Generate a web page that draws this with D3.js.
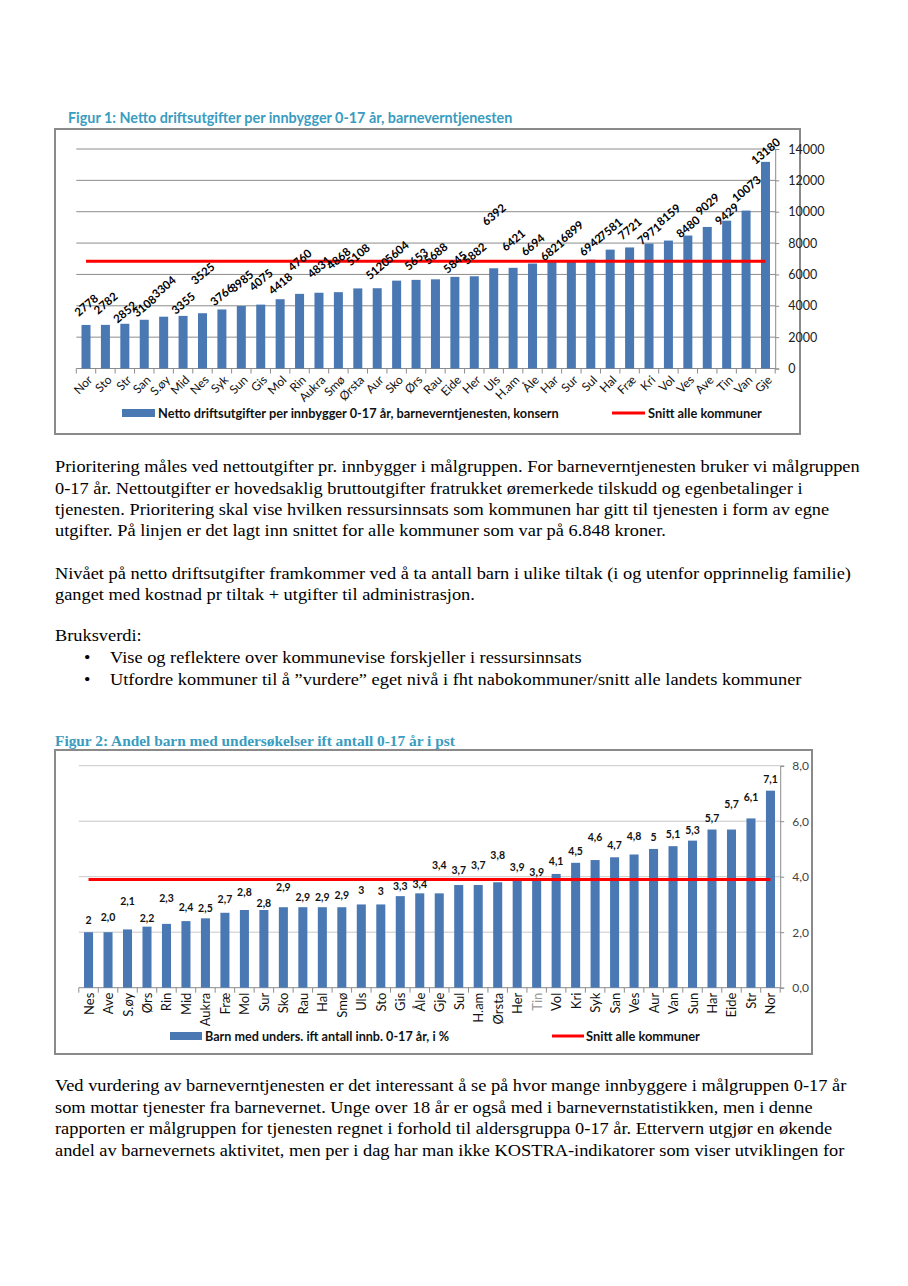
<!DOCTYPE html>
<html><head><meta charset="utf-8">
<script src="https://cdn.jsdelivr.net/npm/d3@7"></script>
<style>body{margin:0;background:#fff}svg{display:block}</style>
</head><body>
<svg id="page" width="908" height="1286"></svg>
<script>
// ---------- DATA ----------
const title1 = "Figur 1: Netto driftsutgifter per innbygger 0-17 år, barneverntjenesten";
const cat1 = ["Nor","Sto","Str","San","S.øy","Mid","Nes","Syk","Sun","Gis","Mol","Rin","Aukra","Smø","Ørsta","Aur","Sko","Ørs","Rau","Eide","Her","Uls","H.am","Åle","Har","Sur","Sul","Hal","Fræ","Kri","Vol","Ves","Ave","Tin","Van","Gje"];
const val1 = [2778,2782,2852,3108,3304,3355,3525,3766,3985,4075,4418,4760,4831,4868,5108,5120,5604,5653,5688,5845,5882,6392,6421,6694,6821,6899,6942,7581,7721,7971,8159,8480,9029,9429,10073,13180];
const avg1 = 6848;
const ticks1 = [0,2000,4000,6000,8000,10000,12000,14000];
const legend1 = ["Netto driftsutgifter per innbygger 0-17 år, barneverntjenesten, konsern","Snitt alle kommuner"];

const title2 = "Figur 2: Andel barn med undersøkelser ift antall 0-17 år i pst";
const cat2 = ["Nes","Ave","S.øy","Ørs","Rin","Mid","Aukra","Fræ","Mol","Sur","Sko","Rau","Hal","Smø","Uls","Sto","Gis","Åle","Gje","Sul","H.am","Ørsta","Her","Tin","Vol","Kri","Syk","San","Ves","Aur","Van","Sun","Har","Eide","Str","Nor"];
const val2 = [2.0,2.0,2.1,2.2,2.3,2.4,2.5,2.7,2.8,2.8,2.9,2.9,2.9,2.9,3.0,3.0,3.3,3.4,3.4,3.7,3.7,3.8,3.9,3.9,4.1,4.5,4.6,4.7,4.8,5.0,5.1,5.3,5.7,5.7,6.1,7.1];
const lab2 = ["2","2,0","2,1","2,2","2,3","2,4","2,5","2,7","2,8","2,8","2,9","2,9","2,9","2,9","3","3","3,3","3,4","3,4","3,7","3,7","3,8","3,9","3,9","4,1","4,5","4,6","4,7","4,8","5","5,1","5,3","5,7","5,7","6,1","7,1"];
const avg2 = 3.9;
const ticks2 = [0,2,4,6,8];
const tickLab2 = ["0,0","2,0","4,0","6,0","8,0"];
const legend2 = ["Barn med unders. ift antall innb. 0-17 år, i %","Snitt alle kommuner"];

const para1 = ["Prioritering måles ved nettoutgifter pr. innbygger i målgruppen. For barneverntjenesten bruker vi målgruppen",
"0-17 år. Nettoutgifter er hovedsaklig bruttoutgifter fratrukket øremerkede tilskudd og egenbetalinger i",
"tjenesten. Prioritering skal vise hvilken ressursinnsats som kommunen har gitt til tjenesten i form av egne",
"utgifter. På linjen er det lagt inn snittet for alle kommuner som var på 6.848 kroner."];
const para2 = ["Nivået på netto driftsutgifter framkommer ved å ta antall barn i ulike tiltak (i og utenfor opprinnelig familie)",
"ganget med kostnad pr tiltak + utgifter til administrasjon."];
const para3 = ["Bruksverdi:"];
const bullets = ["Vise og reflektere over kommunevise forskjeller i ressursinnsats",
"Utfordre kommuner til å ”vurdere” eget nivå i fht nabokommuner/snitt alle landets kommuner"];
const para4 = ["Ved vurdering av barneverntjenesten er det interessant å se på hvor mange innbyggere i målgruppen 0-17 år",
"som mottar tjenester fra barnevernet. Unge over 18 år er også med i barnevernstatistikken, men i denne",
"rapporten er målgruppen for tjenesten regnet i forhold til aldersgruppa 0-17 år. Ettervern utgjør en økende",
"andel av barnevernets aktivitet, men per i dag har man ikke KOSTRA-indikatorer som viser utviklingen for"];

// ---------- LAYOUT ----------
const svg = d3.select("#page");
const BAR = "#4a78b3", RED = "#ff0000";
const SANS = "Lato, 'Liberation Sans', sans-serif";
const SERIF = "'Liberation Serif', 'Times New Roman', serif";

function fitSize(text, family, weight, target){
  const t = svg.append("text").attr("font-family",family).attr("font-weight",weight).attr("font-size",100).text(text);
  const w = t.node().getComputedTextLength(); t.remove();
  return 100*target/w;
}

// label lifts (px above bar top), layout only
const lift1 = [20,22,12,14,30,13,40,15,25,25,16,34,26,34,34,20,29,21,26,15,23,54,28,19,12,29,15,21,19,10,26,9,23,7,22,11];
const lift2 = [12,15,28,9,26,14,10,14,18,7,20,10,10,12,14,13,10,9,28,15,20,27,12,7,13,12,23,12,19,12,12,11,12,26,21,12];

// ===== CHART 1 =====
{
  const g = svg.append("g");
  g.append("text").attr("x",68).attr("y",123).attr("fill","#3a9cc0").attr("font-family",SANS).attr("font-weight","bold")
    .attr("font-size",fitSize(title1,SANS,"bold",445)).text(title1);
  g.append("rect").attr("x",55).attr("y",129).attr("width",745).attr("height",305).attr("fill","none").attr("stroke","#8a8a8a").attr("stroke-width",2);

  const x = d3.scaleBand().domain(cat1).range([76.3,775.2]).paddingInner(0.536).paddingOuter(0.268);
  const y = d3.scaleLinear().domain([0,14000]).range([368.5,149]);
  const L = 76.3, R = 775.2;

  g.selectAll("line.grid").data(ticks1.slice(1)).join("line").attr("class","grid")
    .attr("x1",L).attr("x2",R).attr("y1",d=>y(d)).attr("y2",d=>y(d)).attr("stroke","#8c8c8c").attr("stroke-width",1);

  const ay = g.append("g").attr("transform",`translate(${R},0)`).call(d3.axisRight(y).tickValues(ticks1).tickSize(4).tickPadding(9).tickFormat(d3.format("d")));
  ay.select(".domain").attr("stroke","#8c8c8c");
  ay.selectAll(".tick line").attr("stroke","#8c8c8c");
  ay.selectAll("text").attr("font-family",SANS).attr("font-size",12.5).attr("fill","#222");

  g.append("line").attr("x1",L).attr("x2",R).attr("y1",y(0)).attr("y2",y(0)).attr("stroke","#8c8c8c");
  const bounds = cat1.map(c=>x(c)-x.step()*x.paddingInner()/2).concat([R]);
  g.selectAll("line.xt").data(bounds).join("line").attr("class","xt").attr("x1",d=>d).attr("x2",d=>d)
    .attr("y1",y(0)).attr("y2",y(0)+5).attr("stroke","#8c8c8c");

  g.selectAll("rect.bar").data(val1).join("rect").attr("class","bar")
    .attr("x",(d,i)=>x(cat1[i])).attr("width",x.bandwidth()).attr("y",d=>y(d)).attr("height",d=>y(0)-y(d)).attr("fill",BAR);

  const line = d3.line().x((d,i)=>x(cat1[i])+x.bandwidth()/2).y(()=>y(avg1));
  g.append("path").datum(cat1).attr("d",line).attr("stroke",RED).attr("stroke-width",3).attr("fill","none");

  g.selectAll("text.vl").data(val1).join("text").attr("class","vl")
    .attr("transform",(d,i)=>`translate(${x(cat1[i])+x.bandwidth()/2},${y(d)-lift1[i]}) rotate(-40)`)
    .attr("text-anchor","middle").attr("dominant-baseline","central")
    .attr("font-family",SANS).attr("font-weight","bold").attr("font-size",11.5).attr("fill","#000").text(d=>d);

  g.selectAll("text.xl").data(cat1).join("text").attr("class","xl")
    .attr("transform",d=>`translate(${x(d)+x.bandwidth()/2+4},${y(0)+9}) rotate(-45)`)
    .attr("text-anchor","end").attr("dominant-baseline","central")
    .attr("font-family",SANS).attr("font-size",12).attr("fill","#111").text(d=>d);

  g.append("rect").attr("x",122).attr("y",409).attr("width",33).attr("height",8).attr("fill",BAR);
  g.append("text").attr("x",158).attr("y",413).attr("dominant-baseline","central").attr("font-family",SANS).attr("font-weight","bold")
    .attr("font-size",fitSize(legend1[0],SANS,"bold",401)).attr("fill","#111").text(legend1[0]);
  g.append("line").attr("x1",612).attr("x2",645).attr("y1",413).attr("y2",413).attr("stroke",RED).attr("stroke-width",3);
  g.append("text").attr("x",648).attr("y",413).attr("dominant-baseline","central").attr("font-family",SANS).attr("font-weight","bold")
    .attr("font-size",fitSize(legend1[1],SANS,"bold",114)).attr("fill","#111").text(legend1[1]);
}

// ===== CHART 2 =====
{
  const g = svg.append("g");
  g.append("text").attr("x",55).attr("y",746).attr("fill","#3a9cc0").attr("font-family",SERIF).attr("font-weight","bold")
    .attr("font-size",fitSize(title2,SERIF,"bold",400)).text(title2);
  g.append("rect").attr("x",55).attr("y",750).attr("width",757).attr("height",304).attr("fill","none").attr("stroke","#8a8a8a").attr("stroke-width",2);

  const L = 78.8, R = 780.2;
  const x = d3.scaleBand().domain(cat2).range([L,R]).paddingInner(0.536).paddingOuter(0.268);
  const y = d3.scaleLinear().domain([0,8]).range([987.7,765.7]);

  g.selectAll("line.grid").data(ticks2.slice(1)).join("line").attr("class","grid")
    .attr("x1",L).attr("x2",R).attr("y1",d=>y(d)).attr("y2",d=>y(d)).attr("stroke","#c8c8c8").attr("stroke-width",1);

  const ay = g.append("g").attr("transform",`translate(${R},0)`).call(d3.axisRight(y).tickValues(ticks2).tickSize(4).tickPadding(8).tickFormat((d,i)=>tickLab2[i]));
  ay.select(".domain").attr("stroke","#8c8c8c");
  ay.selectAll(".tick line").attr("stroke","#8c8c8c");
  ay.selectAll("text").attr("font-family",SANS).attr("font-size",12).attr("fill","#444");

  g.append("line").attr("x1",L).attr("x2",R).attr("y1",y(0)).attr("y2",y(0)).attr("stroke","#8c8c8c");
  const bounds = cat2.map(c=>x(c)-x.step()*x.paddingInner()/2).concat([R]);
  g.selectAll("line.xt").data(bounds).join("line").attr("class","xt").attr("x1",d=>d).attr("x2",d=>d)
    .attr("y1",y(0)).attr("y2",y(0)+5).attr("stroke","#8c8c8c");

  g.selectAll("rect.bar").data(val2).join("rect").attr("class","bar")
    .attr("x",(d,i)=>x(cat2[i])).attr("width",x.bandwidth()).attr("y",d=>y(d)).attr("height",d=>y(0)-y(d)).attr("fill",BAR);

  const line = d3.line().x((d,i)=>x(cat2[i])+x.bandwidth()/2).y(()=>y(avg2));
  g.append("path").datum(cat2).attr("d",line).attr("stroke",RED).attr("stroke-width",3.2).attr("fill","none");

  g.selectAll("text.vl").data(val2).join("text").attr("class","vl")
    .attr("x",(d,i)=>x(cat2[i])+x.bandwidth()/2).attr("y",(d,i)=>y(d)-lift2[i])
    .attr("text-anchor","middle").attr("dominant-baseline","central")
    .attr("font-family",SANS).attr("font-weight","bold").attr("font-size",10.5).attr("fill","#111").text((d,i)=>lab2[i]);

  g.selectAll("text.xl").data(cat2).join("text").attr("class","xl")
    .attr("transform",d=>`translate(${x(d)+x.bandwidth()/2},${y(0)+5}) rotate(-90)`)
    .attr("text-anchor","end").attr("dominant-baseline","central")
    .attr("font-family",SANS).attr("font-size",13).attr("fill",d=>d==="Tin"?"#999":"#111").text(d=>d);

  g.append("rect").attr("x",170).attr("y",1032).attr("width",32).attr("height",8).attr("fill",BAR);
  g.append("text").attr("x",205).attr("y",1036).attr("dominant-baseline","central").attr("font-family",SANS).attr("font-weight","bold")
    .attr("font-size",fitSize(legend2[0],SANS,"bold",244)).attr("fill","#111").text(legend2[0]);
  g.append("line").attr("x1",552).attr("x2",584).attr("y1",1036).attr("y2",1036).attr("stroke",RED).attr("stroke-width",3);
  g.append("text").attr("x",586).attr("y",1036).attr("dominant-baseline","central").attr("font-family",SANS).attr("font-weight","bold")
    .attr("font-size",fitSize(legend2[1],SANS,"bold",114)).attr("fill","#111").text(legend2[1]);
}

// ===== BODY TEXT =====
{
  const FS = 16.5;
  const fitted = fitSize(para1[0],SERIF,"normal",805);
  const k = fitted/FS;
  const g = svg.append("g").attr("transform",`scale(${k},1)`).attr("font-family",SERIF).attr("font-size",FS).attr("fill","#000");
  const put = (lines, x, ys) => lines.forEach((t,i)=>g.append("text").attr("x",x/k).attr("y",ys[i]).text(t));
  put(para1,55,[472,494,515,536]);
  put(para2,55,[579,600]);
  put(para3,55,[641]);
  bullets.forEach((t,i)=>{
    const yy = [663,685][i];
    g.append("text").attr("x",84/k).attr("y",yy).text("•");
    g.append("text").attr("x",110/k).attr("y",yy).text(t);
  });
  put(para4,55,[1091,1113,1134,1156]);
}
</script>
</body></html>
